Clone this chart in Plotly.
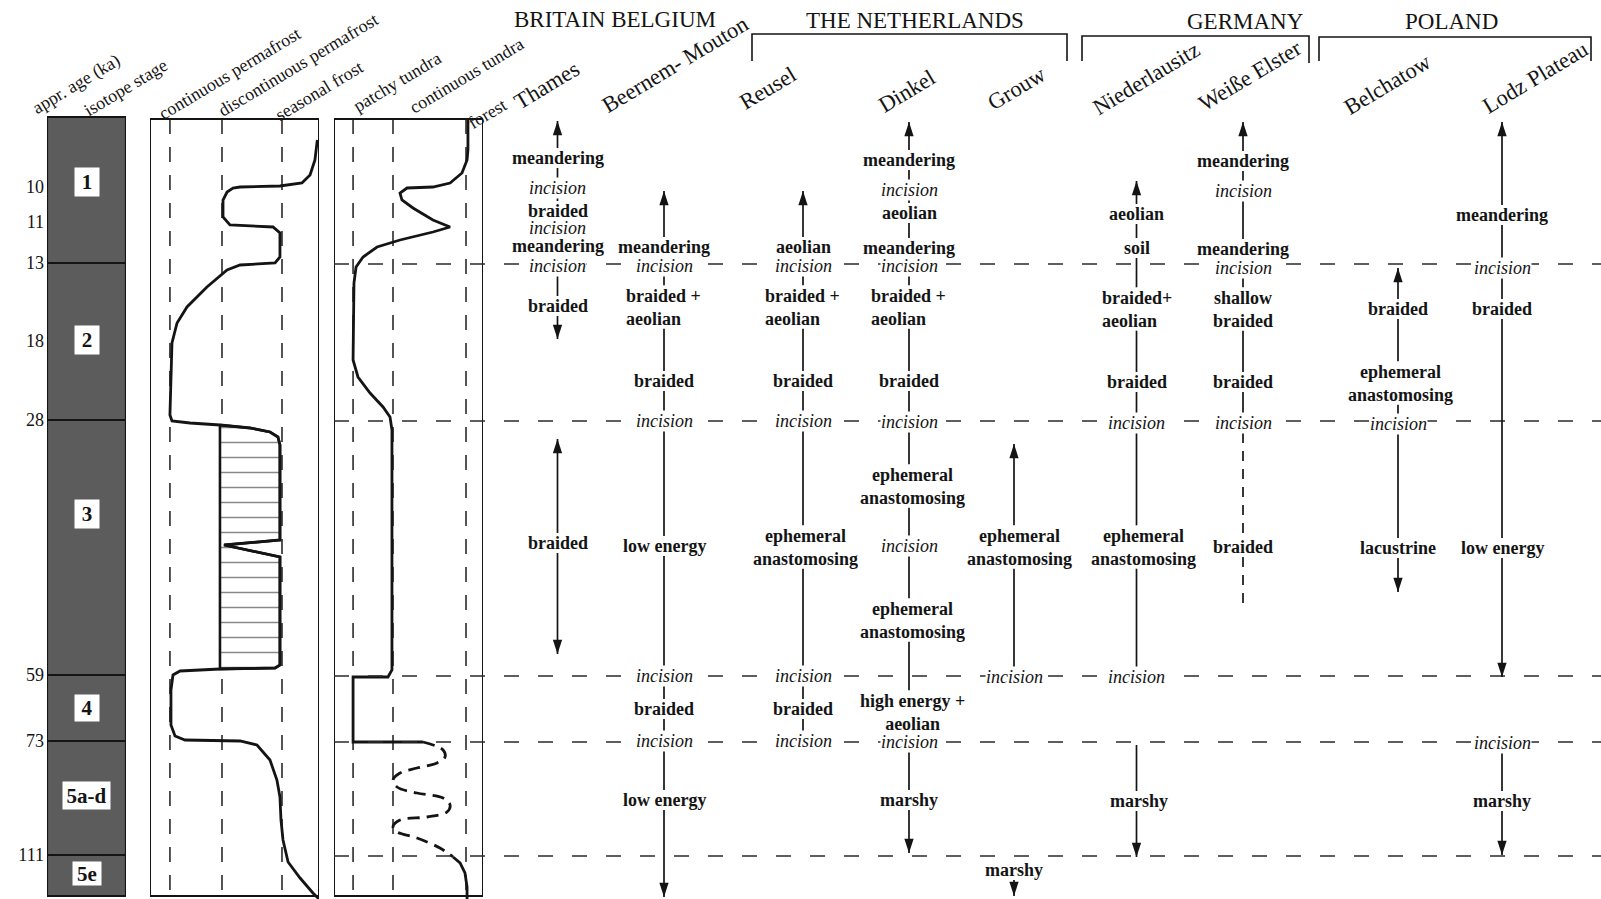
import numpy as np
import plotly.graph_objects as go

# ---------------- data ----------------
AGE_TICKS = [10, 11, 13, 18, 28, 59, 73, 111]          # ka
STAGES = ["1", "2", "3", "4", "5a-d", "5e"]
STAGE_LIMITS_KA = [13, 28, 59, 73, 111]

FROST_ZONES = ["continuous permafrost", "discontinuous permafrost", "seasonal frost"]
VEG_ZONES = ["patchy tundra", "continuous tundra", "forest"]

# permafrost curve: x in % of panel width, y in rows of the age scale
PERMAFROST_X = [99, 97.6, 94.7, 89.9, 76.9, 53.3, 49.1, 45.6, 43.2, 43.2,
                47.3, 72.8, 76.9, 76.9, 74.0, 53.3, 45.6, 33.7, 21.9, 16.0,
                13.0, 12.4, 11.8, 13.0, 23.7, 41.4, 59.2, 71.0, 75.7, 76.9,
                76.9, 43.8, 76.9, 76.9, 74.0, 41.4, 17.8, 13.6, 12.4, 12.4,
                14.8, 20.7, 53.3, 63.3, 71.0, 75.1, 76.9, 77.5, 78.7, 81.7,
                88.8, 96.4, 100]
PERMAFROST_ROW = [140, 160, 175, 183, 186, 187, 188, 192, 200, 217,
                  225, 227, 233, 257, 263, 265, 270, 287, 307, 323,
                  343, 377, 415, 421, 423, 425, 428, 432, 437, 445,
                  540, 545, 557, 665, 668, 669, 671, 675, 690, 725,
                  736, 740, 741, 745, 760, 780, 797, 820, 840, 862,
                  878, 893, 899]
# hatched (permafrost) block in stage 3
HATCH_X = [41.4, 59.2, 71.0, 75.7, 76.9, 76.9, 43.8, 76.9, 76.9, 74.0, 41.4, 41.4]
HATCH_ROW = [425, 428, 432, 437, 445, 540, 545, 557, 665, 668, 669, 425]

# vegetation curve
VEG_X = [89.9, 89.9, 89.3, 85.9, 77.9, 66.4, 49.0, 44.3, 45.6, 53.0,
         66.4, 76.5, 77.9, 66.4, 44.3, 28.9, 19.5, 14.8, 13.4, 12.8,
         16.1, 24.2, 32.9, 37.6, 38.9, 38.9, 36.2, 12.8, 12.8, 59.7]
VEG_ROW = [120, 150, 160, 173, 183, 187, 188, 193, 200, 208,
           220, 226, 227, 232, 240, 247, 257, 267, 283, 360,
           377, 393, 407, 417, 430, 670, 677, 677, 742, 742]
VEG_DASH_X = [59.7, 73.2, 74.5, 69.1, 55.7, 44.3, 39.6, 42.3, 55.7, 73.2,
              77.9, 75.8, 62.4, 44.3, 39.6, 42.3, 55.7, 71.1, 79.9]
VEG_DASH_ROW = [742, 750, 757, 763, 768, 773, 780, 787, 793, 798,
                805, 812, 817, 820, 827, 832, 838, 848, 857]
VEG_TAIL_X = [79.9, 84.6, 87.9, 89.3, 89.3]
VEG_TAIL_ROW = [857, 863, 873, 887, 899]

COUNTRIES = ["BRITAIN BELGIUM", "THE NETHERLANDS", "GERMANY", "POLAND"]
RIVERS = ["Thames", "Beernem- Mouton", "Reusel", "Dinkel", "Grouw",
          "Niederlausitz", "Weiße Elster", "Belchatow", "Lodz Plateau"]

# (river, text, row, style, dx)   style: b bold, i italic, bl bold left-aligned
LABELS = [
    (0, "meandering", 158, "b", 0), (0, "incision", 188, "i", 0),
    (0, "braided", 211, "b", 0), (0, "incision", 228, "i", 0),
    (0, "meandering", 246, "b", 0), (0, "incision", 266, "i", 0),
    (0, "braided", 306, "b", 0), (0, "braided", 543, "b", 0),
    (1, "meandering", 247, "b", 0), (1, "incision", 266, "i", 0),
    (1, "braided +<br>aeolian", 307, "bl", 0), (1, "braided", 381, "b", 0),
    (1, "incision", 421, "i", 0), (1, "low energy", 546, "b", 0),
    (1, "incision", 676, "i", 0), (1, "braided", 709, "b", 0),
    (1, "incision", 741, "i", 0), (1, "low energy", 800, "b", 0),
    (2, "aeolian", 247, "b", 0), (2, "incision", 266, "i", 0),
    (2, "braided +<br>aeolian", 307, "bl", 0), (2, "braided", 381, "b", 0),
    (2, "incision", 421, "i", 0), (2, "ephemeral<br>anastomosing", 547, "b", 2),
    (2, "incision", 676, "i", 0), (2, "braided", 709, "b", 0),
    (2, "incision", 741, "i", 0),
    (3, "meandering", 160, "b", 0), (3, "incision", 190, "i", 0),
    (3, "aeolian", 213, "b", 0), (3, "meandering", 248, "b", 0),
    (3, "incision", 266, "i", 0), (3, "braided +<br>aeolian", 307, "bl", 0),
    (3, "braided", 381, "b", 0), (3, "incision", 422, "i", 0),
    (3, "ephemeral<br>anastomosing", 486, "b", 3), (3, "incision", 546, "i", 0),
    (3, "ephemeral<br>anastomosing", 620, "b", 3),
    (3, "high energy +<br>aeolian", 712, "b", 3), (3, "incision", 742, "i", 0),
    (3, "marshy", 800, "b", 0),
    (4, "ephemeral<br>anastomosing", 547, "b", 5), (4, "incision", 677, "i", 0),
    (4, "marshy", 870, "b", 0),
    (5, "aeolian", 214, "b", 0), (5, "soil", 248, "b", 0),
    (5, "braided+<br>aeolian", 309, "bl", 3), (5, "braided", 382, "b", 0),
    (5, "incision", 423, "i", 0), (5, "ephemeral<br>anastomosing", 547, "b", 7),
    (5, "incision", 677, "i", 0), (5, "marshy", 801, "b", 2),
    (6, "meandering", 161, "b", 0), (6, "incision", 191, "i", 0),
    (6, "meandering", 249, "b", 0), (6, "incision", 268, "i", 0),
    (6, "shallow<br>braided", 309, "b", 0), (6, "braided", 382, "b", 0),
    (6, "incision", 423, "i", 0), (6, "braided", 547, "b", 0),
    (7, "braided", 309, "b", 0), (7, "ephemeral<br>anastomosing", 383, "b", 2),
    (7, "incision", 424, "i", 0), (7, "lacustrine", 548, "b", 0),
    (8, "meandering", 215, "b", 0), (8, "incision", 268, "i", 0),
    (8, "braided", 309, "b", 0), (8, "low energy", 548, "b", 0),
    (8, "incision", 743, "i", 0), (8, "marshy", 801, "b", 0),
]

# (river, top row, bottom row, arrow at top, arrow at bottom, dashed)
SEGMENTS = [
    (0, 121, 339, True, True, False), (0, 439, 654, True, True, False),
    (1, 191, 897, True, True, False),
    (2, 191, 741, True, False, False),
    (3, 122, 853, True, True, False),
    (4, 444, 677, True, False, False), (4, 870, 896, False, True, False),
    (5, 181, 677, True, False, False), (5, 745, 857, False, True, False),
    (6, 122, 423, True, False, False), (6, 423, 610, False, False, True),
    (7, 268, 592, True, True, False),
    (8, 122, 677, True, True, False), (8, 743, 855, False, True, False),
]

# ---------------- layout constants ----------------
W, H = 1601, 899
FONT = "Liberation Serif"
INK = "#141414"
GREY = "#5c5c5c"
AGE_ROW = [187, 222, 263, 341, 420, 675, 741, 855]   # row of each age tick
STAGE_TOP, PANEL_TOP, PANEL_BOTTOM = 117, 119, 896
STAGE_LABEL_ROW = [182, 340, 514, 708, 795, 873]
STAGE_BOX_W = [24, 24, 24, 24, 47, 28]
STAGE_BOX_H = [28, 28, 28, 26, 27, 23]
FROST_GUIDES = [11.8, 42.6, 78.1]
VEG_GUIDES = [12.8, 39.6, 88.6]
VEG_LEFT = 334
COL_X = [557.5, 664, 803, 909, 1014, 1136.5, 1243, 1398, 1502]
HEAD_POS = [(76, 84), (125, 88), (229, 74), (298, 65), (319, 91),
            (397, 82), (466, 76), (487, 114)]
RIVER_POS = [(546, 85), (675, 64), (767, 88), (906, 91), (1016, 88),
             (1146, 78), (1250, 75), (1387, 84), (1535, 77)]
COUNTRY_POS = [(615, 19), (915, 20), (1245, 21), (1451, 21)]
BRACKETS = [(752, 1067, 34, 61, 61), (1082, 1309, 36, 61, 63), (1319, 1591, 37, 61, 61)]


def row(age):
    return float(np.interp(age, AGE_TICKS, AGE_ROW))


fig = go.Figure()


def add_line(xs, ys, axis, width=1.5, dash=None, color=INK, shape="linear", **kw):
    fig.add_trace(go.Scatter(x=xs, y=ys, xaxis=axis, yaxis="y", mode="lines",
                             line=dict(color=color, width=width, dash=dash, shape=shape),
                             hoverinfo="skip", showlegend=False, **kw))


# isotope stage column
edges = [STAGE_TOP] + [row(a) for a in STAGE_LIMITS_KA] + [PANEL_BOTTOM]
for i, name in enumerate(STAGES):
    t, b = edges[i], edges[i + 1]
    add_line([0, 1, 1, 0, 0], [t, t, b, b, t], "x", width=2.2, fill="toself", fillcolor=GREY)
    fig.add_annotation(x=0.5, y=STAGE_LABEL_ROW[i], xref="x", yref="y", text=name,
                       showarrow=False, bgcolor="white", borderpad=0,
                       width=STAGE_BOX_W[i], height=STAGE_BOX_H[i],
                       font=dict(family=FONT, size=21, color=INK, weight="bold"))

# horizontal stage boundaries across vegetation panel and river columns
for a in STAGE_LIMITS_KA:
    add_line([VEG_LEFT, W], [row(a) + 1] * 2, "x4", width=1.6, dash="15px,19px", color="#2a2a2a")

# panel guides + frames
for axis, guides in (("x2", FROST_GUIDES), ("x3", VEG_GUIDES)):
    for g in guides:
        add_line([g, g], [PANEL_TOP, PANEL_BOTTOM], axis, width=1.6, dash="15px,13px", color="#2a2a2a")
    add_line([0, 100, 100, 0, 0], [PANEL_TOP, PANEL_TOP, PANEL_BOTTOM, PANEL_BOTTOM, PANEL_TOP],
             axis, width=2)

# permafrost
fig.add_trace(go.Scatter(x=HATCH_X, y=HATCH_ROW, xaxis="x2", yaxis="y", mode="lines",
                         fill="toself", fillcolor="white",
                         fillpattern=dict(shape="-", size=15, solidity=0.1, fgcolor=INK, bgcolor="white"),
                         line=dict(color=INK, width=2.6), hoverinfo="skip", showlegend=False))
add_line(PERMAFROST_X, PERMAFROST_ROW, "x2", width=2.8)

# vegetation
add_line(VEG_X, VEG_ROW, "x3", width=2.8)
add_line(VEG_DASH_X, VEG_DASH_ROW, "x3", width=2.8, dash="12px,7px", shape="spline")
add_line(VEG_TAIL_X, VEG_TAIL_ROW, "x3", width=2.8)

# river columns: connecting lines broken around the labels, with arrowheads
for col, top, bottom, up, down, dashed in SEGMENTS:
    holes = []
    for c, text, r, style, dx in LABELS:
        if c == col:
            h = 10 + 11.7 * text.count("<br>")
            holes.append((r - h, r + h))
    holes.sort()
    xs, ys, cur = [], [], top
    for lo, hi in holes:
        if hi < top or lo > bottom:
            continue
        if lo > cur:
            xs += [COL_X[col], COL_X[col], None]
            ys += [cur, lo, None]
        cur = max(cur, hi)
    if cur < bottom:
        xs += [COL_X[col], COL_X[col]]
        ys += [cur, bottom]
    add_line(xs, ys, "x4", width=1.7, dash="10px,8px" if dashed else None)
    for flag, tip, ang in ((up, top, 0), (down, bottom, 180)):
        if flag:
            fig.add_trace(go.Scatter(x=[COL_X[col]], y=[tip], xaxis="x4", yaxis="y", mode="markers",
                                     marker=dict(symbol="arrow", size=15, angle=ang, color=INK,
                                                 line=dict(width=0)),
                                     hoverinfo="skip", showlegend=False))

for c, text, r, style, dx in LABELS:
    left = style == "bl"
    italic = style == "i"
    fig.add_annotation(x=COL_X[c] + dx - (39 if left else 0), y=r, xref="x4", yref="y",
                       text=text, showarrow=False,
                       xanchor="left" if left else "center", align="left" if left else "center",
                       bgcolor="white" if italic else "rgba(0,0,0,0)", borderpad=0,
                       font=dict(family=FONT, size=18, color=INK,
                                 weight="normal" if italic else "bold",
                                 style="italic" if italic else "normal"))

# headers
for text, (x, y) in zip(["appr. age (ka)", "isotope stage"] + FROST_ZONES + VEG_ZONES, HEAD_POS):
    fig.add_annotation(x=x, y=y, xref="x4", yref="y", text=text, showarrow=False, textangle=-31,
                       font=dict(family=FONT, size=18, color=INK))
for text, (x, y) in zip(RIVERS, RIVER_POS):
    fig.add_annotation(x=x, y=y, xref="x4", yref="y", text=text, showarrow=False, textangle=-31,
                       font=dict(family=FONT, size=22.5, color=INK))
for text, (x, y) in zip(COUNTRIES, COUNTRY_POS):
    fig.add_annotation(x=x, y=y, xref="x4", yref="y", text=text, showarrow=False,
                       font=dict(family=FONT, size=23, color=INK))
for xl, xr, top, bl, br in BRACKETS:
    add_line([xl, xl, xr, xr], [bl, top, top, br], "x4", width=1.6)

fig.update_layout(
    width=W, height=H, margin=dict(l=0, r=0, t=0, b=0),
    paper_bgcolor="white", plot_bgcolor="rgba(0,0,0,0)", showlegend=False,
    xaxis=dict(domain=[47 / W, 126 / W], range=[0, 1], visible=False, anchor="y"),
    xaxis2=dict(domain=[150 / W, 319 / W], range=[0, 100], visible=False, anchor="y"),
    xaxis3=dict(domain=[334 / W, 483 / W], range=[0, 100], visible=False, anchor="y"),
    xaxis4=dict(domain=[0, 1], range=[0, W], visible=False, anchor="y"),
    yaxis=dict(domain=[0, 1], range=[H, 0], anchor="x", tickvals=AGE_ROW,
               ticktext=[str(a) for a in AGE_TICKS], ticks="", showgrid=False,
               zeroline=False, showline=False, ticklabelstandoff=2,
               tickfont=dict(family=FONT, size=18, color=INK)),
)

fig.write_html("out.html", config={"displayModeBar": False},
               post_script="document.body.style.margin='0';")
